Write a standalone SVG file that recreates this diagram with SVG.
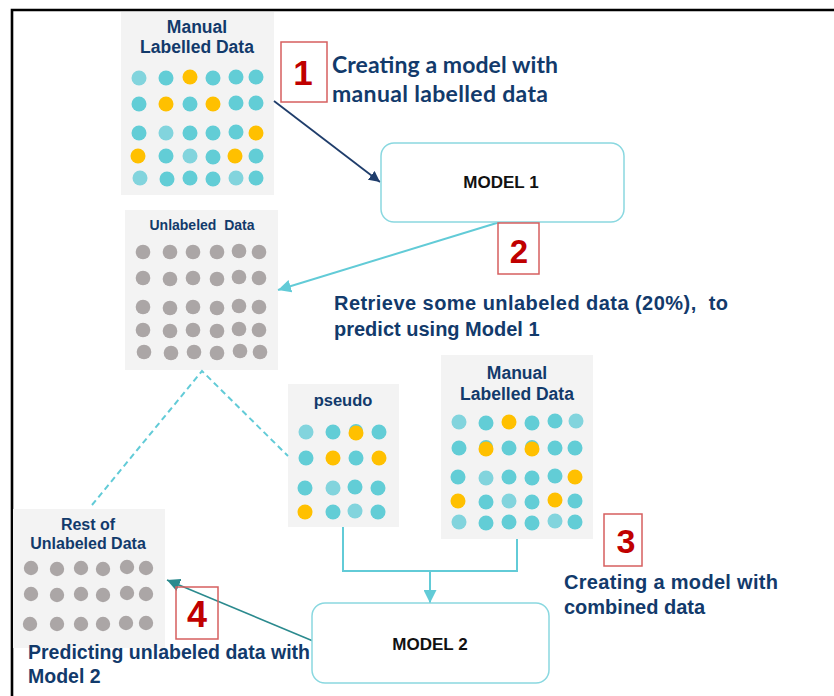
<svg xmlns="http://www.w3.org/2000/svg" width="834" height="696" viewBox="0 0 834 696">
<style>
.panel{fill:#f3f3f3}
.ttl{font-family:"Liberation Sans",Arial,sans-serif;font-weight:bold;fill:#123a6b;text-anchor:middle}
.desc{font-family:"Liberation Sans",Arial,sans-serif;font-weight:bold;fill:#123a6b}
.cal{font-family:Lato,"Open Sans",sans-serif;font-weight:bold;fill:#123a6b}
.num{font-family:"Liberation Sans",Arial,sans-serif;font-weight:bold;fill:#c00000;text-anchor:middle}
.numbox{fill:none;stroke:#d65f5f;stroke-width:1.5}
.model{fill:#ffffff;stroke:#8ad8e0;stroke-width:1.5}
.mtxt{font-family:"Liberation Sans",Arial,sans-serif;font-weight:bold;font-size:17px;fill:#111111;text-anchor:middle}
.t{fill:#62cdd6}
.l{fill:#82d4dd}
.y{fill:#ffc000}
.g{fill:#aba6a6}
</style>
<defs>
<marker id="ahNavy" viewBox="0 0 10 10" refX="10" refY="5" markerWidth="11" markerHeight="11" markerUnits="userSpaceOnUse" orient="auto"><path d="M0,0 L10,5 L0,10 z" fill="#1f3d6b"/></marker>
<marker id="ahTeal" viewBox="0 0 10 10" refX="10" refY="5" markerWidth="13" markerHeight="13" markerUnits="userSpaceOnUse" orient="auto"><path d="M0,0 L10,5 L0,10 z" fill="#62cbd7"/></marker>
<marker id="ahDark" viewBox="0 0 10 10" refX="10" refY="5" markerWidth="13" markerHeight="13" markerUnits="userSpaceOnUse" orient="auto"><path d="M0,0 L10,5 L0,10 z" fill="#2b8a8e"/></marker>
</defs>
<rect width="834" height="696" fill="#ffffff"/>
<g id="frame"><polyline points="12,696 12,10 834,10" fill="none" stroke="#000000" stroke-width="2.6"/></g>

<g id="manual-labelled-1">
<rect class="panel" x="121" y="12" width="153" height="183"/>
<text class="ttl" x="197" y="33" font-size="17.5">Manual</text>
<text class="ttl" x="197" y="53" font-size="17.5">Labelled Data</text>
<g>
<circle class="l" cx="139" cy="78" r="7.5"/><circle class="t" cx="166" cy="78" r="7.5"/><circle class="y" cx="190" cy="77" r="7.5"/><circle class="t" cx="213" cy="78" r="7.5"/><circle class="t" cx="236" cy="77" r="7.5"/><circle class="t" cx="256" cy="77" r="7.5"/>
<circle class="t" cx="139" cy="104" r="7.5"/><circle class="y" cx="166" cy="104" r="7.5"/><circle class="t" cx="190" cy="104" r="7.5"/><circle class="y" cx="213" cy="104" r="7.5"/><circle class="t" cx="236" cy="103" r="7.5"/><circle class="t" cx="256" cy="103" r="7.5"/>
<circle class="t" cx="139" cy="133" r="7.5"/><circle class="l" cx="166" cy="133" r="7.5"/><circle class="t" cx="190" cy="133" r="7.5"/><circle class="t" cx="213" cy="133" r="7.5"/><circle class="t" cx="236" cy="132" r="7.5"/><circle class="y" cx="256" cy="133" r="7.5"/>
<circle class="y" cx="138" cy="156" r="7.5"/><circle class="t" cx="166" cy="156" r="7.5"/><circle class="l" cx="190" cy="156" r="7.5"/><circle class="t" cx="213" cy="157" r="7.5"/><circle class="y" cx="235" cy="156" r="7.5"/><circle class="t" cx="256" cy="156" r="7.5"/>
<circle class="l" cx="140" cy="178" r="7.5"/><circle class="t" cx="167" cy="179" r="7.5"/><circle class="t" cx="190" cy="178" r="7.5"/><circle class="t" cx="213" cy="179" r="7.5"/><circle class="l" cx="236" cy="178" r="7.5"/><circle class="t" cx="256" cy="178" r="7.5"/>
</g>
</g>

<g id="unlabeled">
<rect class="panel" x="125" y="210" width="153" height="160"/>
<text class="ttl" x="202" y="230" font-size="14" xml:space="preserve">Unlabeled  Data</text>
<g>
<circle class="g" cx="143" cy="252" r="7.3"/><circle class="g" cx="170" cy="252" r="7.3"/><circle class="g" cx="193" cy="252" r="7.3"/><circle class="g" cx="217" cy="252" r="7.3"/><circle class="g" cx="239" cy="251" r="7.3"/><circle class="g" cx="259" cy="252" r="7.3"/>
<circle class="g" cx="143" cy="278" r="7.3"/><circle class="g" cx="170" cy="279" r="7.3"/><circle class="g" cx="193" cy="278" r="7.3"/><circle class="g" cx="217" cy="279" r="7.3"/><circle class="g" cx="239" cy="277" r="7.3"/><circle class="g" cx="259" cy="278" r="7.3"/>
<circle class="g" cx="143" cy="307" r="7.3"/><circle class="g" cx="170" cy="308" r="7.3"/><circle class="g" cx="193" cy="307" r="7.3"/><circle class="g" cx="217" cy="308" r="7.3"/><circle class="g" cx="239" cy="306" r="7.3"/><circle class="g" cx="259" cy="307" r="7.3"/>
<circle class="g" cx="143" cy="330" r="7.3"/><circle class="g" cx="170" cy="331" r="7.3"/><circle class="g" cx="193" cy="330" r="7.3"/><circle class="g" cx="217" cy="331" r="7.3"/><circle class="g" cx="239" cy="329" r="7.3"/><circle class="g" cx="259" cy="330" r="7.3"/>
<circle class="g" cx="144" cy="352" r="7.3"/><circle class="g" cx="171" cy="353" r="7.3"/><circle class="g" cx="194" cy="352" r="7.3"/><circle class="g" cx="217" cy="353" r="7.3"/><circle class="g" cx="240" cy="351" r="7.3"/><circle class="g" cx="260" cy="352" r="7.3"/>
</g>
</g>

<g id="pseudo">
<rect class="panel" x="288" y="384" width="111" height="143"/>
<text class="ttl" x="343" y="406" font-size="16.5">pseudo</text>
<g>
<circle class="l" cx="306" cy="432" r="7.5"/><circle class="t" cx="333" cy="432" r="7.5"/><circle class="t" cx="356" cy="431" r="7"/><circle class="y" cx="356" cy="433" r="7.5"/><circle class="t" cx="379" cy="432" r="7.5"/>
<circle class="t" cx="306" cy="458" r="7.5"/><circle class="y" cx="333" cy="458" r="7.5"/><circle class="t" cx="356" cy="458" r="7.5"/><circle class="y" cx="379" cy="458" r="7.5"/>
<circle class="t" cx="305" cy="488" r="7.5"/><circle class="l" cx="333" cy="488" r="7.5"/><circle class="t" cx="355" cy="487" r="7.5"/><circle class="t" cx="378" cy="488" r="7.5"/>
<circle class="y" cx="305" cy="512" r="7.5"/><circle class="t" cx="333" cy="512" r="7.5"/><circle class="l" cx="355" cy="511" r="7.5"/><circle class="t" cx="378" cy="512" r="7.5"/>
</g>
</g>

<g id="manual-labelled-2">
<rect class="panel" x="441" y="355" width="152" height="184"/>
<text class="ttl" x="517" y="379" font-size="17.5">Manual</text>
<text class="ttl" x="517" y="400" font-size="17.5">Labelled Data</text>
<g>
<circle class="l" cx="459" cy="422" r="7.5"/><circle class="t" cx="486" cy="423" r="7.5"/><circle class="y" cx="509" cy="422" r="7.5"/><circle class="t" cx="532" cy="423" r="7.5"/><circle class="t" cx="555" cy="421" r="7.5"/><circle class="l" cx="576" cy="421" r="7.5"/>
<circle class="t" cx="459" cy="448" r="7.5"/><circle class="t" cx="486" cy="447" r="7"/><circle class="y" cx="486" cy="449" r="7.5"/><circle class="t" cx="509" cy="448" r="7.5"/><circle class="t" cx="532" cy="447" r="7"/><circle class="y" cx="532" cy="449" r="7.5"/><circle class="t" cx="555" cy="448" r="7.5"/><circle class="t" cx="575" cy="448" r="7.5"/>
<circle class="t" cx="458" cy="477" r="7.5"/><circle class="l" cx="486" cy="478" r="7.5"/><circle class="t" cx="509" cy="477" r="7.5"/><circle class="t" cx="532" cy="478" r="7.5"/><circle class="t" cx="555" cy="476" r="7.5"/><circle class="y" cx="575" cy="477" r="7.5"/>
<circle class="y" cx="458" cy="501" r="7.5"/><circle class="t" cx="486" cy="502" r="7.5"/><circle class="l" cx="509" cy="501" r="7.5"/><circle class="t" cx="532" cy="502" r="7.5"/><circle class="y" cx="555" cy="500" r="7.5"/><circle class="t" cx="575" cy="501" r="7.5"/>
<circle class="l" cx="459" cy="522" r="7.5"/><circle class="t" cx="486" cy="523" r="7.5"/><circle class="t" cx="509" cy="522" r="7.5"/><circle class="t" cx="532" cy="523" r="7.5"/><circle class="l" cx="555" cy="521" r="7.5"/><circle class="t" cx="575" cy="522" r="7.5"/>
</g>
</g>

<g id="rest-unlabeled">
<rect class="panel" x="13" y="509" width="152" height="139"/>
<text class="ttl" x="88" y="530" font-size="16">Rest of</text>
<text class="ttl" x="88" y="549" font-size="16">Unlabeled Data</text>
<g>
<circle class="g" cx="31" cy="568" r="7.2"/><circle class="g" cx="57" cy="569" r="7.2"/><circle class="g" cx="81" cy="568" r="7.2"/><circle class="g" cx="103" cy="569" r="7.2"/><circle class="g" cx="127" cy="567" r="7.2"/><circle class="g" cx="146" cy="568" r="7.2"/>
<circle class="g" cx="31" cy="594" r="7.2"/><circle class="g" cx="57" cy="595" r="7.2"/><circle class="g" cx="81" cy="594" r="7.2"/><circle class="g" cx="103" cy="595" r="7.2"/><circle class="g" cx="127" cy="593" r="7.2"/><circle class="g" cx="146" cy="594" r="7.2"/>
<circle class="g" cx="30" cy="624" r="7.2"/><circle class="g" cx="57" cy="624" r="7.2"/><circle class="g" cx="81" cy="624" r="7.2"/><circle class="g" cx="103" cy="624" r="7.2"/><circle class="g" cx="126" cy="623" r="7.2"/><circle class="g" cx="146" cy="623" r="7.2"/>
</g>
</g>

<g id="connectors" fill="none">
<line x1="274" y1="101" x2="380" y2="182" stroke="#1f3d6b" stroke-width="1.8" marker-end="url(#ahNavy)"/>
<line x1="500" y1="222" x2="278" y2="290" stroke="#62cbd7" stroke-width="2" marker-end="url(#ahTeal)"/>
<polyline points="92,505 202,371 288,456" stroke="#62cbd7" stroke-width="2" stroke-dasharray="6,4"/>
<polyline points="343,527 343,571 517,571 517,539" stroke="#62cbd7" stroke-width="2"/>
<line x1="430" y1="571" x2="430" y2="603" stroke="#62cbd7" stroke-width="2" marker-end="url(#ahTeal)"/>
<line x1="313" y1="641" x2="167" y2="580" stroke="#2b8a8e" stroke-width="1.5" marker-end="url(#ahDark)"/>
</g>

<g id="model-1">
<rect class="model" x="381" y="143" width="243" height="79" rx="13"/>
<text class="mtxt" x="501" y="188">MODEL 1</text>
</g>

<g id="model-2">
<rect class="model" x="312" y="603" width="237" height="80" rx="13"/>
<text class="mtxt" x="430" y="650">MODEL 2</text>
</g>

<g id="step-1">
<rect class="numbox" x="281" y="42" width="46" height="60"/>
<text class="num" x="303" y="85" font-size="35">1</text>
<text class="cal" x="332" y="73" font-size="23" textLength="226">Creating a model with</text>
<text class="cal" x="332" y="102" font-size="23" textLength="216">manual labelled data</text>
</g>

<g id="step-2">
<rect class="numbox" x="498" y="223" width="41" height="51"/>
<text class="num" x="519" y="263" font-size="33">2</text>
<text class="desc" x="334" y="310" font-size="20" textLength="394" xml:space="preserve">Retrieve some unlabeled data (20%),  to</text>
<text class="desc" x="334" y="336" font-size="20">predict using Model 1</text>
</g>

<g id="step-3">
<rect class="numbox" x="604" y="514" width="38" height="52"/>
<text class="num" x="626" y="553" font-size="34">3</text>
<text class="desc" x="564" y="589" font-size="20" textLength="214">Creating a model with</text>
<text class="desc" x="564" y="614" font-size="20">combined data</text>
</g>

<g id="step-4">
<rect class="numbox" x="176" y="587" width="42" height="52"/>
<text class="num" x="197" y="627" font-size="36">4</text>
<text class="desc" x="28" y="659" font-size="19.5" textLength="282">Predicting unlabeled data with</text>
<text class="desc" x="28" y="683" font-size="19.5">Model 2</text>
</g>
</svg>
